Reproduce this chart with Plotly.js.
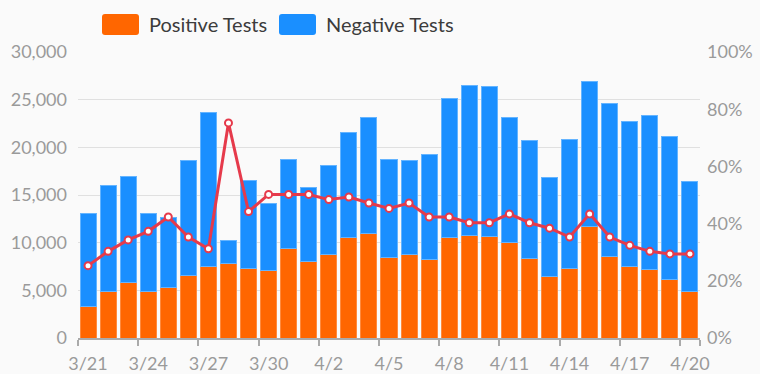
<!DOCTYPE html>
<html>
<head>
<meta charset="utf-8">
<script src="https://cdn.plot.ly/plotly-3.0.1.min.js"></script>
<style>
  html, body { margin: 0; padding: 0; background: #fafafa; }
  #chart { width: 760px; height: 374px; }
</style>
</head>
<body>
<div id="chart"></div>
<script>
// Dates (categories)
var dates = ['3/21','3/22','3/23','3/24','3/25','3/26','3/27','3/28','3/29','3/30',
             '3/31','4/1','4/2','4/3','4/4','4/5','4/6','4/7','4/8','4/9',
             '4/10','4/11','4/12','4/13','4/14','4/15','4/16','4/17','4/18','4/19','4/20'];

// Positive tests (bottom of stack)
var positiveTests = [3350, 4900, 5800, 4900, 5250, 6580, 7450, 7800, 7280, 7070,
                     9370, 8050, 8780, 10560, 10910, 8430, 8740, 8260, 10560, 10700,
                     10670, 10020, 8320, 6430, 7270, 11650, 8600, 7450, 7210, 6160, 4860];

// Negative tests (top of stack)
var negativeTests = [9730, 11120, 11120, 8140, 7340, 12090, 16220, 2450, 9190, 7090,
                     9370, 7690, 9340, 11020, 12200, 10280, 9830, 11040, 14540, 15740,
                     15700, 13090, 12350, 10390, 13570, 15240, 16020, 15250, 16150, 14930, 11510];

// Positive rate (%), right axis
var positiveRate = [25.3, 30.3, 34.3, 37.3, 42.3, 35.3, 31.2, 75.2, 44.2, 50.2,
                    50.2, 50.2, 48.4, 49.3, 47.2, 45.3, 47.2, 42.3, 42.3, 40.3,
                    40.3, 43.4, 40.3, 38.4, 35.3, 43.4, 35.3, 32.4, 30.3, 29.4, 29.4];

// Labelled ticks (every third day)
var tickLabels = ['3/21','3/24','3/27','3/30','4/2','4/5','4/8','4/11','4/14','4/17','4/20'];

var seriesNames = ['Positive Tests', 'Negative Tests'];
var seriesColors = ['#ff6600', '#1a8fff'];

var FONT = 'Lato, "Open Sans", "Noto Sans", sans-serif';
var GRAY = '#9a9a9a';

// boundary tick positions (between categories)
var boundaryTicks = [];
for (var i = 0; i < dates.length; i += 3) boundaryTicks.push(i - 0.5);
boundaryTicks.push(dates.length - 0.5);

var traces = [
  {
    type: 'bar', name: seriesNames[0], x: dates, y: positiveTests,
    marker: { color: seriesColors[0], line: { color: '#ff8a3d', width: 1 } },
    hoverinfo: 'x+y'
  },
  {
    type: 'bar', name: seriesNames[1], x: dates, y: negativeTests,
    marker: { color: seriesColors[1], line: { color: '#64b4ff', width: 1 } },
    hoverinfo: 'x+y'
  },
  {
    type: 'scatter', mode: 'lines+markers', name: 'Positive Rate',
    x: dates, y: positiveRate, yaxis: 'y2',
    line: { color: '#e63a4b', width: 3 },
    marker: { size: 7, color: '#ffffff', line: { color: '#e63a4b', width: 2 } },
    cliponaxis: false
  }
];

// custom legend (rounded boxes + labels) in paper coordinates
var plotL = 78, plotR = 700, plotT = 52, plotB = 338;
function px2x(p) { return (p - plotL) / (plotR - plotL); }
function py2y(p) { return (plotB - p) / (plotB - plotT); }

var legendItems = [
  { box: 102, text: 147 },
  { box: 279, text: 324 }
];
var BW = 37, BH = 21, R = 3;
var roundPath = 'M' + R + ',0 H' + (BW - R) + ' Q' + BW + ',0 ' + BW + ',' + R +
  ' V' + (BH - R) + ' Q' + BW + ',' + BH + ' ' + (BW - R) + ',' + BH +
  ' H' + R + ' Q0,' + BH + ' 0,' + (BH - R) + ' V' + R + ' Q0,0 ' + R + ',0 Z';

var shapes = [], annotations = [];
legendItems.forEach(function (it, k) {
  shapes.push({
    type: 'path', xref: 'paper', yref: 'paper',
    xsizemode: 'pixel', ysizemode: 'pixel',
    xanchor: px2x(it.box), yanchor: py2y(35),
    path: roundPath,
    fillcolor: seriesColors[k], line: { width: 0 }
  });
  annotations.push({
    xref: 'paper', yref: 'paper', x: px2x(it.text), y: py2y(24.5),
    xanchor: 'left', yanchor: 'middle', showarrow: false,
    text: seriesNames[k],
    font: { family: FONT, size: 20, color: '#3c3c3c' }
  });
});

var layout = {
  width: 760, height: 374,
  margin: { l: plotL, r: 760 - plotR, t: plotT, b: 374 - plotB },
  paper_bgcolor: '#fafafa', plot_bgcolor: '#fafafa',
  font: { family: FONT, size: 18, color: GRAY },
  barmode: 'stack', bargap: 0.2,
  showlegend: false,
  xaxis: {
    type: 'category',
    range: [-0.5, dates.length - 0.5],
    tickmode: 'array', tickvals: tickLabels, ticktext: tickLabels,
    ticks: '', ticklabelstandoff: 8,
    showgrid: false, zeroline: false,
    showline: true, linecolor: '#aaaaaa', linewidth: 2,
    tickfont: { family: FONT, size: 18, color: GRAY },
    minor: { tickmode: 'array', tickvals: boundaryTicks, ticks: 'outside', ticklen: 6, tickcolor: '#aaaaaa', tickwidth: 2, showgrid: false }
  },
  yaxis: {
    range: [0, 30000], tickmode: 'linear', tick0: 0, dtick: 5000,
    tickformat: ',d', showgrid: true, gridcolor: '#e0e0e0', gridwidth: 1,
    zeroline: false, showline: false, ticks: '', ticklabelstandoff: 10,
    tickfont: { family: FONT, size: 18, color: GRAY }
  },
  yaxis2: {
    overlaying: 'y', side: 'right',
    range: [0, 100], tickmode: 'linear', tick0: 0, dtick: 20, ticksuffix: '%',
    showgrid: false, zeroline: false, showline: false, ticks: '', ticklabelstandoff: 6,
    tickfont: { family: FONT, size: 18, color: GRAY }
  },
  shapes: shapes,
  annotations: annotations
};

Plotly.newPlot('chart', traces, layout, { displayModeBar: false, staticPlot: true });
</script>
</body>
</html>
